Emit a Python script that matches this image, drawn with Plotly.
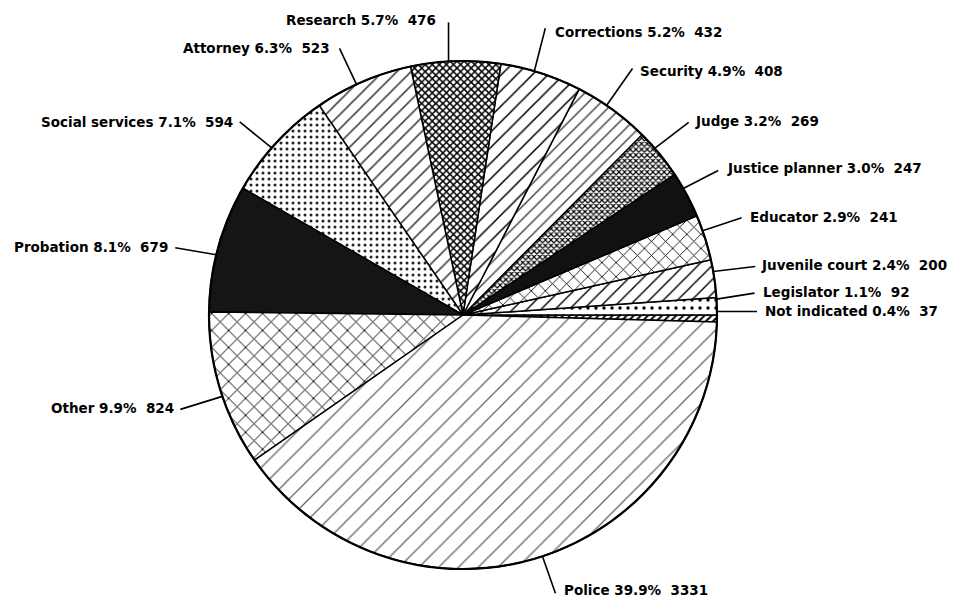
import math
import plotly.graph_objects as go

# ---- data ----
categories = ["Not indicated", "Legislator", "Juvenile court", "Educator",
              "Justice planner", "Judge", "Security", "Corrections", "Research",
              "Attorney", "Social services", "Probation", "Other", "Police"]
counts = [37, 92, 200, 241, 247, 269, 408, 432, 476, 523, 594, 679, 824, 3331]
percents = [0.4, 1.1, 2.4, 2.9, 3.0, 3.2, 4.9, 5.2, 5.7, 6.3, 7.1, 8.1, 9.9, 39.9]

# ---- styles ----
W, H = 960, 605
PAGE_OFF = 8                         # default page margin around the plot div
CX, CY, R = 463 - PAGE_OFF, 315 - PAGE_OFF, 254   # pie centre / radius (px, plot coords)

fill_colors = ["white", "white", "white", "white", "#111111", "white", "white",
               "white", "white", "white", "white", "#151515", "white", "white"]
pat_shape = ["/", ".", "/", "x", "", "x", "/", "/", "x", "/", ".", "", "x", "/"]
pat_size = [5, 8, 10, 10, 8, 4, 9, 11, 5, 10, 6, 8, 12, 14]
pat_solid = [0.4, 0.15, 0.14, 0.16, 0.3, 0.5, 0.16, 0.14, 0.5, 0.16, 0.2, 0.3, 0.15, 0.09]
pat_fg = ["black", "black", "black", "black", "black", "black", "#444444", "black",
          "black", "#444444", "#222222", "black", "black", "#666666"]

# leader line offset (tail - tip) in px, text side, text offset from tail
label_layout = {
    "Not indicated":   (40, 0, "left", 6, 0),
    "Legislator":      (38, -6, "left", 6, -1),
    "Juvenile court":  (42, -5, "left", 4, -1),
    "Educator":        (39, -13, "left", 6, -1),
    "Justice planner": (35, -18, "left", 7, -2),
    "Judge":           (34, -26, "left", 4, -1),
    "Security":        (26, -37, "left", 5, 3),
    "Corrections":     (11, -43, "left", 8, 4),
    "Research":        (0, -39, "right", -11, -2),
    "Attorney":        (-17, -36, "right", -7, 0),
    "Social services": (-32, -26, "right", -5, 0),
    "Probation":       (-41, -7, "right", -5, -1),
    "Other":           (-42, 13, "right", -4, -1),
    "Police":          (13, 37, "left", 7, -3),
}

x0d, x1d = (CX - R) / W, (CX + R) / W
y0d, y1d = (H - CY - R) / H, (H - CY + R) / H

fig = go.Figure(go.Pie(
    labels=categories, values=counts, sort=False,
    direction="counterclockwise", rotation=90,
    textinfo="none", hoverinfo="label+value+percent",
    domain=dict(x=[x0d, x1d], y=[y0d, y1d]),
    marker=dict(colors=fill_colors,
                line=dict(color="black", width=1.5),
                pattern=dict(shape=pat_shape, size=pat_size, solidity=pat_solid,
                             fgcolor=pat_fg, fgopacity=1, fillmode="overlay")),
    showlegend=False,
))

total = sum(counts)
shapes, annotations = [], []
cum = 0
for cat, cnt, pct in zip(categories, counts, percents):
    mid = (cum + cnt / 2) / total * 2 * math.pi
    cum += cnt
    tipx = CX + R * math.cos(mid)
    tipy = CY - R * math.sin(mid)
    dx, dy, side, tdx, tdy = label_layout[cat]
    tx, ty = tipx + dx, tipy + dy
    shapes.append(dict(type="line", xref="paper", yref="paper",
                       x0=tipx / W, y0=1 - tipy / H, x1=tx / W, y1=1 - ty / H,
                       line=dict(color="black", width=1.6)))
    annotations.append(dict(
        xref="paper", yref="paper", x=(tx + tdx) / W, y=1 - (ty + tdy) / H,
        text=f"{cat} {pct:.1f}%\u00a0 {cnt}", showarrow=False,
        xanchor=side, yanchor="middle",
        font=dict(family="DejaVu Sans", size=13.5, color="black", weight="bold")))

# outer outline
fig.add_shape(type="circle", xref="paper", yref="paper",
              x0=x0d, x1=x1d, y0=y0d, y1=y1d,
              line=dict(color="black", width=2.2))
for s in shapes:
    fig.add_shape(**s)
fig.update_layout(width=W, height=H, margin=dict(l=0, r=0, t=0, b=0),
                  paper_bgcolor="white", plot_bgcolor="white",
                  annotations=annotations)

fig.write_html("out.html")
